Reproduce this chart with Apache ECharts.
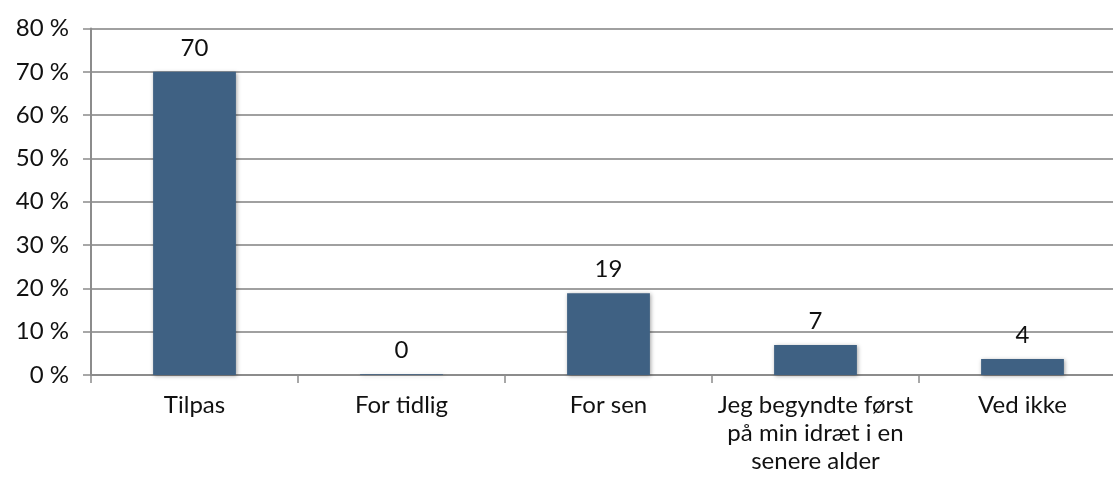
<!DOCTYPE html>
<html>
<head>
<meta charset="utf-8">
<script src="https://cdn.jsdelivr.net/npm/echarts@6/dist/echarts.min.js"></script>
<style>
  html, body { margin: 0; padding: 0; background: #fff; }
  #chart { width: 1113px; height: 480px; }
</style>
</head>
<body>
<div id="chart"></div>
<script>
// kategorier og værdier (procent)
const categories = ["Tilpas", "For tidlig", "For sen", "Jeg begyndte først\npå min idræt i en\nsenere alder", "Ved ikke"];
const values = [70, 0.2, 18.9, 6.9, 3.7];
const valueLabels = ["70", "0", "19", "7", "4"];
const yTicks = [0, 10, 20, 30, 40, 50, 60, 70, 80];

const chart = echarts.init(document.getElementById("chart"));
const font = "Lato, 'Open Sans', sans-serif";
chart.setOption({
  animation: false,
  grid: { left: 91, right: -13, top: 28.5, bottom: 105, outerBoundsMode: "none", containLabel: false },
  xAxis: {
    type: "category",
    data: categories,
    axisLine: { lineStyle: { color: "#8c8c8c", width: 2 } },
    axisTick: { show: true, length: 8, lineStyle: { color: "#8c8c8c", width: 1.5 } },
    axisLabel: {
      interval: 0,
      margin: 16,
      color: "#111",
      fontFamily: font,
      fontSize: 24,
      lineHeight: 28,
    },
  },
  yAxis: {
    type: "value",
    min: yTicks[0],
    max: yTicks[yTicks.length - 1],
    interval: 10,
    axisLine: { show: true, lineStyle: { color: "#8c8c8c", width: 2 } },
    axisTick: { show: true, inside: false, length: 8, lineStyle: { color: "#8c8c8c", width: 1.5 } },
    splitLine: { lineStyle: { color: "#a0a0a0", width: 2 } },
    axisLabel: {
      margin: 22,
      color: "#111",
      fontFamily: font,
      fontSize: 24,
      formatter: (v) => v + " %",
    },
  },
  series: [
    {
      type: "bar",
      data: values,
      barWidth: "40%",
      itemStyle: {
        color: "#3f6183",
        shadowColor: "rgba(0,0,0,0.35)",
        shadowBlur: 4,
        shadowOffsetX: 1,
        shadowOffsetY: 1,
      },
      label: {
        show: true,
        position: "top",
        distance: 12,
        color: "#111",
        fontFamily: font,
        fontSize: 24,
        formatter: (p) => valueLabels[p.dataIndex],
      },
    },
  ],
});
</script>
</body>
</html>
